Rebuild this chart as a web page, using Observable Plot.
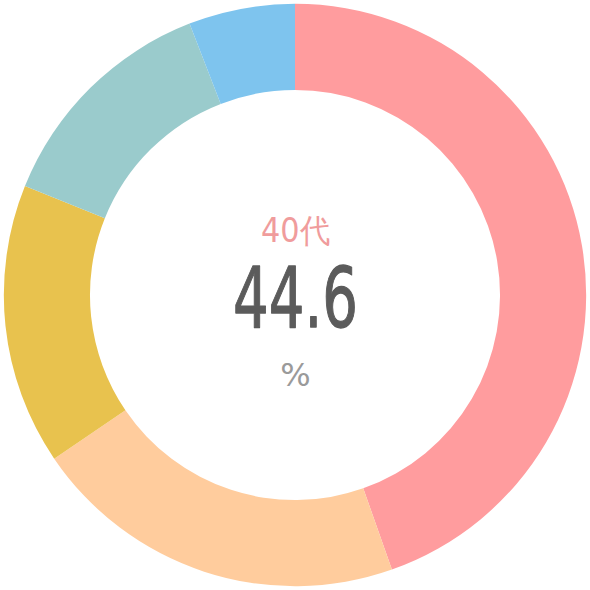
<!DOCTYPE html>
<html><head><meta charset="utf-8">
<script src="https://cdn.jsdelivr.net/npm/d3@7"></script>
<script src="https://cdn.jsdelivr.net/npm/@observablehq/plot@0.6"></script>
<style>body{margin:0;background:#fff}#chart svg{display:block}</style>
</head><body><div id="chart"></div>
<script>
const categories = ["40代", "30代", "50代", "20代", "60代以上"];
const values = [44.6, 20.9, 15.6, 13.0, 5.9];
const colors = ["#FF9C9E", "#FFCC9D", "#E8C24E", "#9ACBCC", "#7EC4EE"];
const centerLabel = "40代";
const centerValue = "44.6";
const centerUnit = "%";

const data = categories.map((c, i) => ({category: c, value: values[i]}));
const arcs = d3.pie().sort(null).value(d => d.value)(data);
const slices = arcs.map(p => ({category: p.data.category, value: p.data.value, startAngle: p.startAngle, endAngle: p.endAngle}));

const outerR = 0.987, innerR = 0.695;
const font = "'DejaVu Sans', sans-serif";

function ringRender(index, scales, vals) {
  const g = d3.create("svg:g");
  const cx = scales.x(0), cy = scales.y(0);
  const r1 = scales.x(outerR) - cx, r0 = scales.x(innerR) - cx;
  const arc = d3.arc().innerRadius(r0).outerRadius(r1);
  for (const i of index) {
    g.append("path")
      .attr("transform", `translate(${cx},${cy})`)
      .attr("d", arc(slices[i]))
      .attr("fill", vals.fill[i]);
  }
  return g.node();
}

const chart = Plot.plot({
  width: 590, height: 590, margin: 0,
  x: {domain: [-1, 1], axis: null},
  y: {domain: [-1, 1], axis: null},
  color: {domain: categories, range: colors},
  style: {background: "#fff"},
  marks: [
    Plot.dot(slices, {x: () => 0, y: () => 0, fill: "category", render: ringRender}),
    Plot.text([centerLabel], {x: 0, y: 0, text: d => d, dy: -64, fill: "#F09C9C", fontSize: 33, fontFamily: font}),
    Plot.text([centerValue], {x: 0, y: 0, text: d => d, dy: 5, fill: "#5B5B5B", stroke: "#5B5B5B", strokeWidth: 1.3, fontSize: 84, fontFamily: font}),
    Plot.text([centerUnit], {x: 0, y: 0, text: d => d, dy: 80, fill: "#9A9A9A", fontSize: 32, fontFamily: font})
  ]
});
d3.select(chart).selectAll("text").each(function() {
  const t = this.textContent;
  if (t === centerValue) d3.select(this).attr("textLength", 125).attr("lengthAdjust", "spacingAndGlyphs");
  if (t === centerLabel) d3.select(this).attr("textLength", 69).attr("lengthAdjust", "spacingAndGlyphs");
});
document.getElementById("chart").appendChild(chart);
</script>
</body></html>
